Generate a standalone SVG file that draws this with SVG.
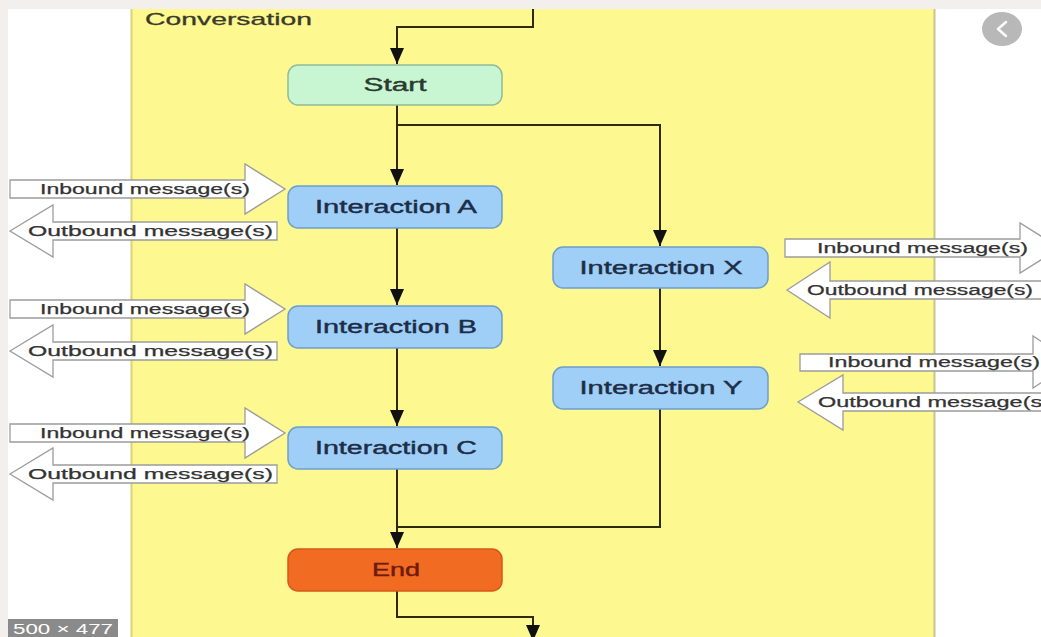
<svg xmlns="http://www.w3.org/2000/svg" width="1041" height="637" viewBox="0 0 1041 637">
  <defs>
    <marker id="arrow" markerUnits="userSpaceOnUse" markerWidth="16" markerHeight="14" refX="16" refY="7" orient="auto" viewBox="0 0 16 14">
      <path d="M0,0 L16,7 L0,14 Z" fill="#111"/>
    </marker>
    <style>
      .bgpage { fill: #f2efed; }
      .panel { fill: #ffffff; }
      .lane { fill: #fdf88f; }
      .node rect { stroke-width: 1.5; }
      .start rect { fill: #c8f6d3; stroke: #90bb9c; }
      .inter rect { fill: #9fcff6; stroke: #6d9fca; }
      .end rect { fill: #f26b22; stroke: #d4581a; }
      .node text { font-family: "Liberation Sans", Arial, sans-serif; font-size: 18px; text-anchor: middle; stroke-width: 0.4; }
      .start text { fill: #2a3a30; stroke: #2a3a30; }
      .inter text { fill: #1d2d47; stroke: #1d2d47; }
      .end text { fill: #6e1a0c; stroke: #6e1a0c; }
      .conn path { fill: none; stroke: #2e2a0c; stroke-width: 2; }
      .msg polygon { fill: #ffffff; stroke: #9c9c9c; stroke-width: 1.3; }
      .msg text { font-family: "Liberation Sans", Arial, sans-serif; font-size: 14px; fill: #333333; stroke: #333333; stroke-width: 0.25; }
      .title { font-family: "Liberation Sans", Arial, sans-serif; font-size: 17px; fill: #3a3a2a; stroke: #3a3a2a; stroke-width: 0.3; }
    </style>
  </defs>

  <!-- page background and viewer frame -->
  <rect class="bgpage" x="0" y="0" width="1041" height="637"/>
  <rect class="panel" x="8" y="9" width="1033" height="628"/>

  <!-- conversation lane -->
  <rect class="lane" x="131" y="9" width="804" height="628"/>
  <line x1="131.5" y1="9" x2="131.5" y2="637" stroke="#d9d37c" stroke-width="2"/>
  <line x1="934.5" y1="9" x2="934.5" y2="637" stroke="#c9c48e" stroke-width="2"/>
  <text class="title" x="145" y="25" textLength="167" lengthAdjust="spacingAndGlyphs">Conversation</text>

  <!-- connectors -->
  <g id="connectors" class="conn">
    <path d="M533,9 V27 H397 V64" marker-end="url(#arrow)"/>
    <path d="M397,105 V185" marker-end="url(#arrow)"/>
    <path d="M397,125 H660 V246" marker-end="url(#arrow)"/>
    <path d="M397,228 V305" marker-end="url(#arrow)"/>
    <path d="M397,348 V426" marker-end="url(#arrow)"/>
    <path d="M397,469 V548" marker-end="url(#arrow)"/>
    <path d="M660,288 V366" marker-end="url(#arrow)"/>
    <path d="M660,409 V527 H397"/>
    <path d="M397,591 V617 H533 V641" marker-end="url(#arrow)"/>
  </g>

  <!-- nodes -->
  <g id="node-start" class="node start">
    <rect x="288" y="65" width="214" height="40" rx="10"/>
    <text x="395" y="91" textLength="63" lengthAdjust="spacingAndGlyphs">Start</text>
  </g>
  <g id="node-interaction-a" class="node inter">
    <rect x="288" y="186" width="214" height="42" rx="10"/>
    <text x="396" y="213" textLength="162" lengthAdjust="spacingAndGlyphs">Interaction A</text>
  </g>
  <g id="node-interaction-b" class="node inter">
    <rect x="288" y="306" width="214" height="42" rx="10"/>
    <text x="396" y="333" textLength="162" lengthAdjust="spacingAndGlyphs">Interaction B</text>
  </g>
  <g id="node-interaction-c" class="node inter">
    <rect x="288" y="427" width="214" height="42" rx="10"/>
    <text x="396" y="454" textLength="162" lengthAdjust="spacingAndGlyphs">Interaction C</text>
  </g>
  <g id="node-interaction-x" class="node inter">
    <rect x="553" y="247" width="215" height="41" rx="10"/>
    <text x="661" y="274" textLength="163" lengthAdjust="spacingAndGlyphs">Interaction X</text>
  </g>
  <g id="node-interaction-y" class="node inter">
    <rect x="553" y="367" width="215" height="42" rx="10"/>
    <text x="661" y="394" textLength="163" lengthAdjust="spacingAndGlyphs">Interaction Y</text>
  </g>
  <g id="node-end" class="node end">
    <rect x="288" y="549" width="214" height="42" rx="10"/>
    <text x="396" y="576" textLength="48" lengthAdjust="spacingAndGlyphs">End</text>
  </g>

  <!-- message flows for A -->
  <g id="msg-a" class="msg">
    <polygon points="10,180 245,180 245,164 285,189 245,214 245,198 10,198"/>
    <text x="40" y="194" textLength="210" lengthAdjust="spacingAndGlyphs">Inbound message(s)</text>
    <polygon points="10,231 53,205 53,222 277,222 277,240 53,240 53,257"/>
    <text x="28" y="236" textLength="245" lengthAdjust="spacingAndGlyphs">Outbound message(s)</text>
  </g>
  <!-- message flows for B -->
  <g id="msg-b" class="msg">
    <polygon points="10,300 245,300 245,284 285,309 245,334 245,318 10,318"/>
    <text x="40" y="314" textLength="210" lengthAdjust="spacingAndGlyphs">Inbound message(s)</text>
    <polygon points="10,351 53,325 53,342 277,342 277,360 53,360 53,377"/>
    <text x="28" y="356" textLength="245" lengthAdjust="spacingAndGlyphs">Outbound message(s)</text>
  </g>
  <!-- message flows for C -->
  <g id="msg-c" class="msg">
    <polygon points="10,424 245,424 245,408 285,433 245,458 245,442 10,442"/>
    <text x="40" y="438" textLength="210" lengthAdjust="spacingAndGlyphs">Inbound message(s)</text>
    <polygon points="10,474 53,448 53,465 277,465 277,483 53,483 53,500"/>
    <text x="28" y="479" textLength="245" lengthAdjust="spacingAndGlyphs">Outbound message(s)</text>
  </g>
  <!-- message flows for X -->
  <g id="msg-x" class="msg">
    <polygon points="785,239 1020,239 1020,223 1060,248 1020,273 1020,257 785,257"/>
    <text x="817" y="253" textLength="211" lengthAdjust="spacingAndGlyphs">Inbound message(s)</text>
    <polygon points="787,290 830,262 830,281 1045,281 1045,299 830,299 830,318"/>
    <text x="807" y="295" textLength="226" lengthAdjust="spacingAndGlyphs">Outbound message(s)</text>
  </g>
  <!-- message flows for Y -->
  <g id="msg-y" class="msg">
    <polygon points="800,354 1033,354 1033,336 1073,362 1033,388 1033,371 800,371"/>
    <text x="828" y="367" textLength="212" lengthAdjust="spacingAndGlyphs">Inbound message(s)</text>
    <polygon points="798,402 843,375 843,393 1060,393 1060,411 843,411 843,430"/>
    <text x="818" y="407" textLength="232" lengthAdjust="spacingAndGlyphs">Outbound message(s)</text>
  </g>

  <!-- viewer overlays -->
  <rect x="8" y="619" width="110" height="18" fill="#8a8a8a"/>
  <text x="13" y="634" font-family="Liberation Sans, Arial, sans-serif" font-size="14" fill="#ffffff" textLength="100" lengthAdjust="spacingAndGlyphs">500 × 477</text>
  <ellipse cx="1002" cy="29" rx="20" ry="17" fill="#b8b8b8"/>
  <path d="M1006,22 L998,29 L1006,36" fill="none" stroke="#ffffff" stroke-width="2.5" stroke-linecap="round" stroke-linejoin="round"/>
</svg>
